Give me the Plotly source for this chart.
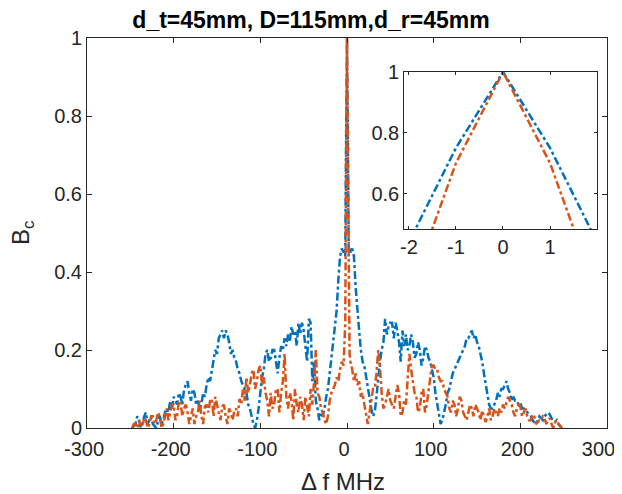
import plotly.graph_objects as go

# frecuencias (MHz): malla de 2 MHz, y de 1 MHz cerca del pico
freq = (list(range(-248, -11, 2))
        + [-10, -8, -6, -4, -3, -2, -1, 0, 1, 2, 3, 4, 6, 8, 10]
        + list(range(12, 249, 2)))

# curva azul
bc_blue = [0.0, 0.005, 0.01, 0.03, 0.02, 0.0, 0.01, 0.03, 0.04, 0.01,
           0.02, 0.03, 0.01, 0.005, 0.0, 0.02, 0.03, 0.01, 0.02, 0.04,
           0.05, 0.04, 0.07, 0.05, 0.08, 0.07, 0.06, 0.09, 0.08, 0.06,
           0.1, 0.11, 0.12, 0.09, 0.07, 0.1, 0.09, 0.06, 0.07, 0.05,
           0.06, 0.09, 0.08, 0.11, 0.13, 0.12, 0.15, 0.18, 0.2, 0.19,
           0.23, 0.24, 0.25, 0.23, 0.25, 0.24, 0.22, 0.19, 0.2, 0.18,
           0.17, 0.15, 0.14, 0.12, 0.11, 0.1, 0.09, 0.06, 0.05, 0.03,
           0.01, 0.0, 0.02, 0.05, 0.1, 0.13, 0.15, 0.19, 0.2, 0.17,
           0.18, 0.2, 0.2, 0.17, 0.14, 0.18, 0.21, 0.2, 0.23, 0.21,
           0.24, 0.22, 0.26, 0.24, 0.25, 0.21, 0.27, 0.24, 0.27, 0.25,
           0.21, 0.17, 0.28, 0.27, 0.12, 0.17, 0.07, 0.05, 0.02, 0.04,
           0.03, 0.05, 0.08, 0.1, 0.14, 0.18, 0.22, 0.25, 0.3,
           0.38, 0.44, 0.46, 0.45, 0.46, 0.44, 0.75, 1.0, 0.75, 0.44, 0.46, 0.45, 0.46, 0.44, 0.36,
           0.29, 0.25, 0.2, 0.17, 0.16, 0.13, 0.11, 0.07, 0.05, 0.03,
           0.04, 0.08, 0.13, 0.17, 0.2, 0.22, 0.28, 0.24, 0.26, 0.27,
           0.27, 0.23, 0.27, 0.25, 0.22, 0.17, 0.25, 0.21, 0.24, 0.2,
           0.21, 0.24, 0.22, 0.18, 0.19, 0.22, 0.2, 0.16, 0.18, 0.21,
           0.2, 0.18, 0.17, 0.15, 0.13, 0.09, 0.06, 0.03, 0.01, 0.02,
           0.04, 0.06, 0.09, 0.1, 0.12, 0.14, 0.15, 0.16, 0.17, 0.18,
           0.19, 0.2, 0.21, 0.23, 0.23, 0.24, 0.25, 0.23, 0.24, 0.22,
           0.21, 0.19, 0.17, 0.14, 0.11, 0.08, 0.06, 0.05, 0.05, 0.06,
           0.07, 0.09, 0.08, 0.1, 0.1, 0.11, 0.12, 0.1, 0.09, 0.07,
           0.08, 0.07, 0.07, 0.06, 0.065, 0.05, 0.05, 0.045, 0.04, 0.035,
           0.03, 0.02, 0.015, 0.01, 0.02, 0.03, 0.025, 0.02, 0.03, 0.035,
           0.04, 0.035, 0.025, 0.02, 0.015, 0.02, 0.01, 0.005, 0.0]

# curva naranja
bc_orange = [0.0, 0.01, 0.01, 0.0, 0.02, 0.01, 0.005, 0.025, 0.02, 0.0,
             0.01, 0.03, 0.03, 0.01, 0.02, 0.04, 0.03, 0.0, 0.01, 0.03,
             0.05, 0.02, 0.04, 0.06, 0.06, 0.02, 0.03, 0.07, 0.065, 0.03,
             0.05, 0.06, 0.04, 0.01, 0.03, 0.05, 0.01, 0.03, 0.04, 0.07,
             0.03, 0.01, 0.055, 0.06, 0.04, 0.07, 0.075, 0.03, 0.08, 0.06,
             0.04, 0.02, 0.055, 0.06, 0.03, 0.01, 0.05, 0.04, 0.02, 0.045,
             0.05, 0.03, 0.075, 0.06, 0.1, 0.07, 0.13, 0.09, 0.11, 0.14,
             0.15, 0.1, 0.12, 0.15, 0.16, 0.11, 0.13, 0.09, 0.07, 0.03,
             0.09, 0.05, 0.06, 0.1, 0.1, 0.04, 0.09, 0.12, 0.19, 0.08,
             0.05, 0.09, 0.07, 0.02, 0.1, 0.06, 0.04, 0.08, 0.06, 0.02,
             0.08, 0.05, 0.03, 0.1, 0.06, 0.12, 0.2, 0.09, 0.08, 0.05,
             0.04, 0.02, 0.01, 0.03, 0.07, 0.09, 0.1, 0.11, 0.13,
             0.12, 0.15, 0.17, 0.16, 0.2, 0.27, 0.70, 1.0, 0.70, 0.27, 0.19, 0.17, 0.15, 0.12, 0.14,
             0.11, 0.12, 0.08, 0.09, 0.06, 0.03, 0.01, 0.04, 0.07, 0.1,
             0.1, 0.14, 0.2, 0.16, 0.09, 0.05, 0.06, 0.08, 0.1, 0.07,
             0.06, 0.05, 0.08, 0.11, 0.09, 0.03, 0.04, 0.07, 0.06, 0.12,
             0.19, 0.15, 0.12, 0.09, 0.08, 0.04, 0.05, 0.09, 0.1, 0.04,
             0.06, 0.09, 0.12, 0.16, 0.16, 0.15, 0.15, 0.13, 0.12, 0.12,
             0.1, 0.09, 0.08, 0.05, 0.04, 0.07, 0.06, 0.03, 0.05, 0.08,
             0.07, 0.04, 0.03, 0.02, 0.04, 0.06, 0.05, 0.03, 0.06, 0.05,
             0.04, 0.02, 0.045, 0.03, 0.015, 0.03, 0.05, 0.02, 0.03, 0.05,
             0.04, 0.03, 0.05, 0.04, 0.06, 0.05, 0.065, 0.08, 0.07, 0.06,
             0.04, 0.03, 0.05, 0.06, 0.055, 0.03, 0.04, 0.05, 0.03, 0.02,
             0.02, 0.035, 0.03, 0.01, 0.015, 0.02, 0.02, 0.03, 0.025, 0.01,
             0.02, 0.025, 0.01, 0.0, 0.015, 0.02, 0.01, 0.005, 0.0]

# ticks (el ultimo lleva espacios duros para que no quede cortado en el borde)
x_ticks = [-300, -200, -100, 0, 100, 200, 300]
x_labels = ['-300', '-200', '-100', '0', '100', '200', '300\u00a0\u00a0']
y_ticks = [0, 0.2, 0.4, 0.6, 0.8, 1]
y_labels = ['0', '0.2', '0.4', '0.6', '0.8', '1']
xin_ticks = [-2, -1, 0, 1]
xin_labels = ['-2', '-1', '0', '1']
yin_ticks = [0.6, 0.8, 1]
yin_labels = ['0.6', '0.8', '1']

AZUL = '#0072BD'
NARANJA = '#D95319'
EJE = '#262626'
DASH = '8px,3px,3px,3px'
ANCHO = 2.5

fig = go.Figure()

# grafico principal
fig.add_trace(go.Scatter(x=freq, y=bc_blue, mode='lines',
                         line=dict(color=AZUL, width=ANCHO, dash=DASH)))
fig.add_trace(go.Scatter(x=freq, y=bc_orange, mode='lines',
                         line=dict(color=NARANJA, width=ANCHO, dash=DASH)))

# recuadro (zoom en el pico)
fig.add_trace(go.Scatter(x=freq, y=bc_blue, mode='lines', xaxis='x2', yaxis='y2',
                         line=dict(color=AZUL, width=ANCHO, dash=DASH)))
fig.add_trace(go.Scatter(x=freq, y=bc_orange, mode='lines', xaxis='x2', yaxis='y2',
                         line=dict(color=NARANJA, width=ANCHO, dash=DASH)))

ejes = dict(showgrid=False, zeroline=False, showline=True, linecolor=EJE, linewidth=1,
            ticks='inside', tickcolor=EJE, tickfont=dict(size=20, color=EJE),
            automargin=False)

# la pagina deja 8 px de margen (body): la figura ocupa el resto de la ventana
fig.update_layout(
    width=614, height=486, autosize=False,
    margin=dict(l=79, r=15, t=30, b=66),
    paper_bgcolor='white', plot_bgcolor='white',
    font=dict(family='Liberation Sans', color=EJE),
    showlegend=False,
    title=dict(text='d_t=45mm, D=115mm,d_r=45mm', x=303 / 614, xanchor='center',
               y=1 - 12 / 486, yanchor='middle',
               font=dict(size=23, weight='bold', color='black')),
    xaxis=dict(range=[-300, 300], tickvals=x_ticks, ticktext=x_labels,
               mirror='ticks', ticklen=5, domain=[0, 1], ticklabeloverflow='allow',
               ticklabelstandoff=3, ticklabelshift=-3, **ejes),
    yaxis=dict(range=[0, 1], tickvals=y_ticks, ticktext=y_labels,
               mirror='ticks', ticklen=5, domain=[0, 1], **ejes),
    xaxis2=dict(range=[-2.1, 1.99], tickvals=xin_ticks, ticktext=xin_labels,
                mirror='ticks', ticklen=3, anchor='y2', domain=[0.610, 0.980], **ejes),
    yaxis2=dict(range=[0.483, 1], tickvals=yin_ticks, ticktext=yin_labels,
                mirror='ticks', ticklen=3, anchor='x2', domain=[0.510, 0.913], **ejes),
)

# etiquetas de los ejes
fig.add_annotation(text='Δ f MHz', xref='paper', yref='paper', x=0.492, y=-0.136,
                   xanchor='center', yanchor='middle', showarrow=False,
                   font=dict(size=24, color=EJE))
fig.add_annotation(text='B<sub>c</sub>', xref='paper', yref='paper', x=-0.125, y=0.5,
                   xanchor='center', yanchor='middle', textangle=-90, showarrow=False,
                   font=dict(size=24, color=EJE))

fig.write_html("out.html")
